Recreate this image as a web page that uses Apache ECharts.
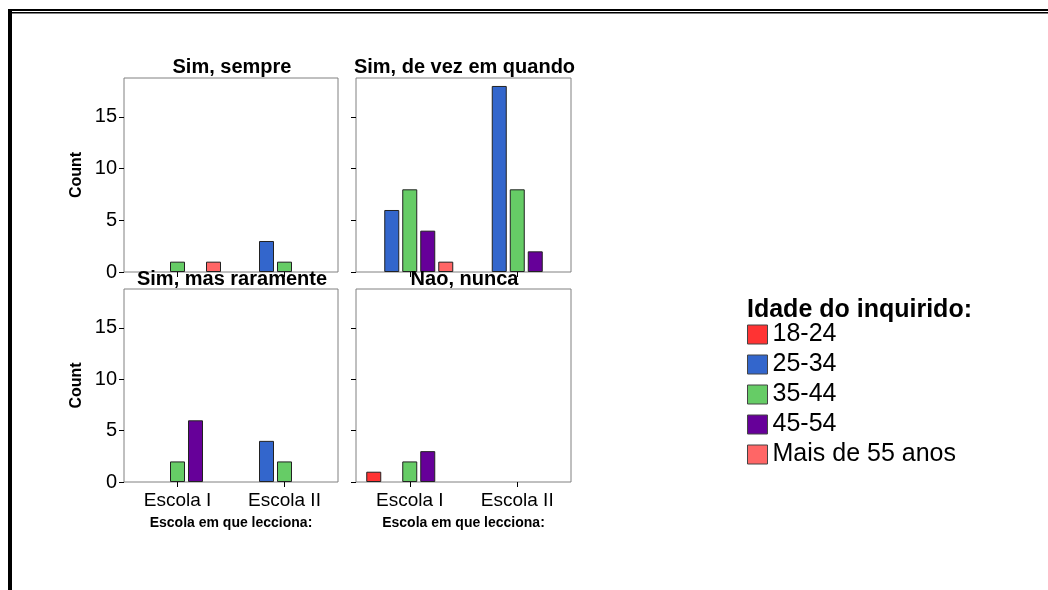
<!DOCTYPE html>
<html>
<head>
<meta charset="utf-8">
<script src="https://cdn.jsdelivr.net/npm/echarts@6/dist/echarts.min.js"></script>
<style>
html,body{margin:0;padding:0;background:#fff;}
#chart{width:1048px;height:590px;}
</style>
</head>
<body>
<div id="chart"></div>
<script>
// ---- data ----
const panelTitles = ['Sim, sempre', 'Sim, de vez em quando', 'Sim, mas raramente', 'Nao, nunca'];
const schools = ['Escola I', 'Escola II'];
const ageGroups = ['18-24', '25-34', '35-44', '45-54', 'Mais de 55 anos'];
const ageColors = ['#FF3333', '#3366CC', '#66CC66', '#660099', '#FF6666'];
const yTicks = [0, 5, 10, 15];
// counts: one row per age group, columns = [Escola I, Escola II]
const simSempre        = [[0, 0], [0, 3], [1, 1], [0, 0], [1, 0]];
const simDeVezEmQuando = [[0, 0], [6, 18], [8, 8], [4, 2], [1, 0]];
const simMasRaramente  = [[0, 0], [0, 4], [2, 2], [6, 0], [0, 0]];
const naoNunca         = [[1, 0], [0, 0], [2, 0], [3, 0], [0, 0]];
const panelData = [simSempre, simDeVezEmQuando, simMasRaramente, naoNunca];

// ---- layout ----
const FONT = 'Liberation Sans, Arial, sans-serif';
const grids = [
  {left: 124, top: 78, width: 214, height: 194},
  {left: 356, top: 78, width: 215, height: 194},
  {left: 124, top: 289, width: 214, height: 193},
  {left: 356, top: 289, width: 215, height: 193}
];
const YMAX = 18.77;

const chart = echarts.init(document.getElementById('chart'), null, {renderer: 'canvas'});

const gridOpts = grids.map(g => Object.assign({show: true, borderColor: '#808080', borderWidth: 1, backgroundColor: '#fff', containLabel: false}, g));

const xAxes = grids.map((g, i) => ({
  type: 'category', gridIndex: i, data: schools,
  axisLine: {show: false},
  axisTick: {show: true, alignWithLabel: true, length: 5, lineStyle: {color: '#000', width: 1}},
  axisLabel: {show: i >= 2, margin: 9, fontSize: 19, color: '#000', fontFamily: FONT},
  name: i >= 2 ? 'Escola em que lecciona:' : '',
  nameLocation: 'middle', nameGap: 34,
  nameTextStyle: {fontSize: 14, fontWeight: 'bold', color: '#000', fontFamily: FONT}
}));

const yAxes = grids.map((g, i) => ({
  type: 'value', gridIndex: i, min: 0, max: YMAX, interval: 5,
  splitLine: {show: false},
  axisLine: {show: false},
  axisTick: {show: true, length: 5, customValues: yTicks, lineStyle: {color: '#000', width: 1}},
  axisLabel: {show: i % 2 === 0, customValues: yTicks, margin: 7, fontSize: 20, color: '#000', fontFamily: FONT},
  name: i % 2 === 0 ? 'Count' : '',
  nameLocation: 'middle', nameRotate: 90, nameGap: 39,
  nameTextStyle: {fontSize: 16, fontWeight: 'bold', color: '#000', fontFamily: FONT}
}));

const series = [];
panelData.forEach((rows, p) => {
  rows.forEach((vals, a) => {
    series.push({
      type: 'bar', name: ageGroups[a], xAxisIndex: p, yAxisIndex: p,
      data: vals.map(v => v === 0 ? null : v),
      barWidth: 15, barGap: '20%',
      itemStyle: {color: ageColors[a], borderColor: '#222', borderWidth: 1},
      emphasis: {disabled: true},
      animation: false
    });
  });
});

const titleTops = [57, 57, 269, 269];
const titles = grids.map((g, i) => ({
  text: panelTitles[i],
  left: g.left + g.width / 2 + 1, top: titleTops[i], textAlign: 'center',
  padding: 0,
  textStyle: {fontSize: 20, fontWeight: 'bold', color: '#000', fontFamily: FONT}
}));
titles.push({
  text: 'Idade do inquirido:', left: 747, top: 298, padding: 0,
  textStyle: {fontSize: 25, fontWeight: 'bold', color: '#000', fontFamily: FONT}
});

chart.setOption({
  backgroundColor: '#fff',
  animation: false,
  title: titles,
  grid: gridOpts,
  xAxis: xAxes,
  yAxis: yAxes,
  series: series,
  legend: {
    data: ageGroups.map((n, i) => ({name: n, icon: 'rect', itemStyle: {color: ageColors[i], borderColor: '#444', borderWidth: 1}})),
    orient: 'vertical', left: 747, top: 322, padding: 0,
    itemWidth: 20, itemHeight: 19, itemGap: 5,
    selectedMode: false,
    textStyle: {fontSize: 25, color: '#000', fontFamily: FONT}
  },
  graphic: [
    {type: 'rect', shape: {x: 8, y: 9, width: 4, height: 581}, style: {fill: '#000'}, z: 100},
    {type: 'rect', shape: {x: 8, y: 9, width: 1040, height: 2}, style: {fill: '#000'}, z: 100},
    {type: 'rect', shape: {x: 11, y: 12, width: 1037, height: 1.5}, style: {fill: '#000'}, z: 100}
  ]
});
</script>
</body>
</html>
